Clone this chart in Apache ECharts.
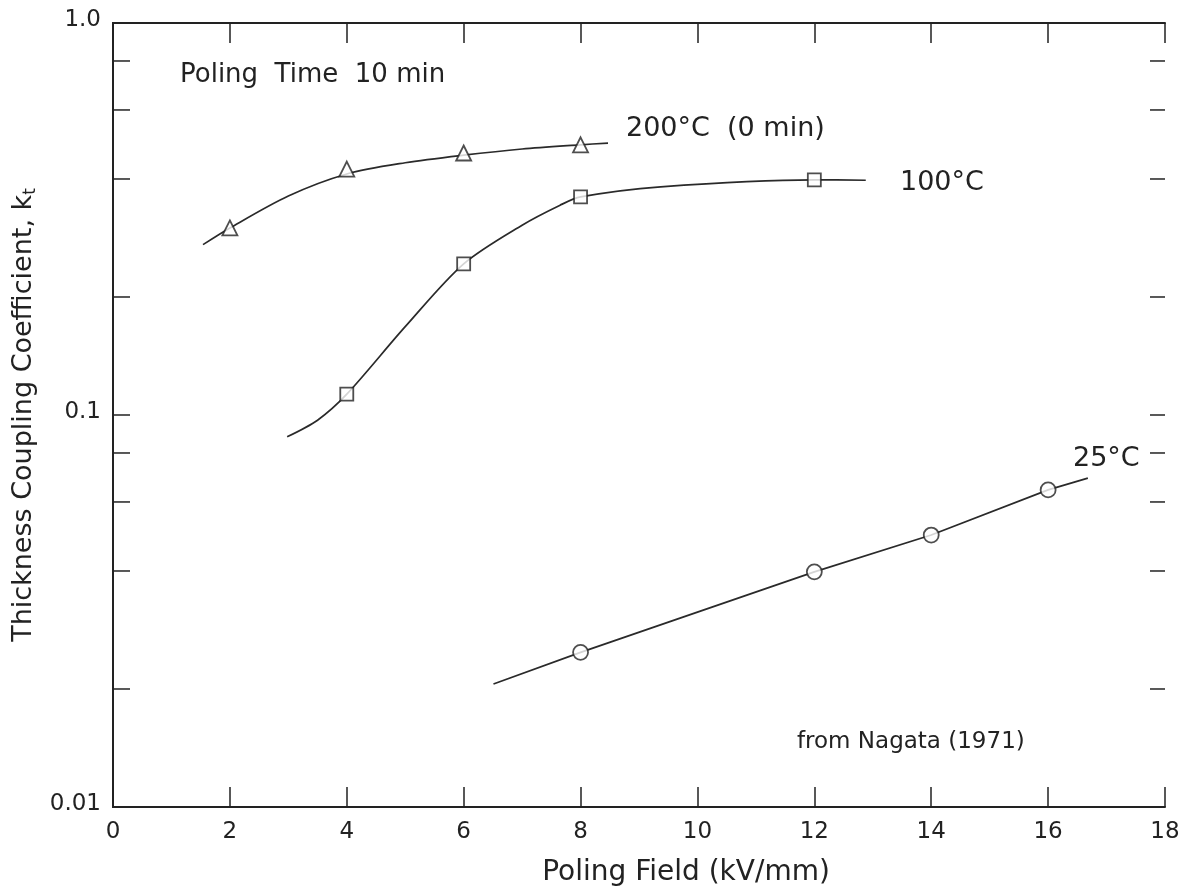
<!DOCTYPE html>
<html>
<head>
<meta charset="utf-8">
<script src="https://cdn.jsdelivr.net/npm/echarts@6/dist/echarts.min.js"></script>
<style>html,body{margin:0;padding:0;background:#fff}#c{width:1183px;height:896px}</style>
</head>
<body>
<div id="c"></div>
<script>
// ---- data ----
const xTicks = [0, 2, 4, 6, 8, 10, 12, 14, 16, 18];
const yTickLabels = {'1': '1.0', '0.1': '0.1', '0.01': '0.01'};
const yMajorTicks = [0.1];
const yMinorTicks = [0.02, 0.04, 0.06, 0.08, 0.2, 0.4, 0.6, 0.8];

// 200 °C (0 min) – triangles
const pts200 = [[2, 0.300], [4, 0.424], [6, 0.466], [8, 0.489]];
const curve200 = [[1.54, 0.272], [2, 0.300], [3, 0.362], [4, 0.412], [5, 0.440], [6, 0.460], [7, 0.477], [8, 0.489], [8.47, 0.494]];

// 100 °C – squares
const pts100 = [[4, 0.113], [6, 0.243], [8, 0.360], [12, 0.398]];
const curve100 = [[2.98, 0.088], [3.5, 0.097], [4, 0.113], [5, 0.168], [6, 0.243], [7, 0.305], [7.65, 0.343], [8, 0.360], [9.37, 0.382], [12, 0.398], [12.88, 0.397]];

// 25 °C – circles
const pts25 = [[8, 0.0248], [12, 0.0398], [14, 0.0494], [16, 0.0644]];
const curve25 = [[6.51, 0.0206], [8, 0.0248], [12, 0.0398], [14, 0.0494], [16, 0.0644], [16.68, 0.069]];

const FONT = 'DejaVu Sans';
const INK = '#222';
const chart = echarts.init(document.getElementById('c'), null, {renderer: 'canvas'});

const lineStyle = {color: '#2a2a2a', width: 1.7};
const markerStyle = {color: '#fff', borderColor: '#222', borderWidth: 1.8};

function tickSeries(values, lenL, lenR) {
  return {type: 'custom', xAxisIndex: 0, yAxisIndex: 0, clip: false, silent: true,
    data: values.map(v => [0, v]),
    renderItem: (params, api) => {
      const v = api.value(1);
      const l = api.coord([0, v]);
      const r = api.coord([18, v]);
      const st = {stroke: '#222', lineWidth: 1.5};
      return {type: 'group', children: [
        {type: 'line', shape: {x1: l[0], y1: l[1], x2: l[0] + lenL, y2: l[1]}, style: st},
        {type: 'line', shape: {x1: r[0] - lenR, y1: r[1], x2: r[0], y2: r[1]}, style: st}
      ]};
    }};
}

chart.setOption({
  animation: false,
  backgroundColor: '#fff',
  grid: {left: 113, right: 18, top: 23, bottom: 89, containLabel: false},
  xAxis: [{
    type: 'value', min: 0, max: 18, interval: 2, position: 'bottom',
    axisLine: {lineStyle: {color: '#222', width: 2}},
    axisTick: {inside: true, length: 20, lineStyle: {color: '#222', width: 1.5}},
    axisLabel: {fontFamily: FONT, fontSize: 23, color: INK, margin: 14,
      formatter: v => xTicks.includes(v) ? String(v) : ''},
    splitLine: {show: false}
  }, {
    type: 'value', min: 0, max: 18, interval: 2, position: 'top',
    axisLine: {lineStyle: {color: '#222', width: 2}},
    axisTick: {inside: true, length: 20, lineStyle: {color: '#222', width: 1.5}},
    axisLabel: {show: false}, splitLine: {show: false}
  }],
  yAxis: [{
    type: 'log', logBase: 10, min: 0.01, max: 1, position: 'left',
    name: 'Thickness Coupling Coefficient, k{sub|t}', nameLocation: 'middle', nameGap: 70, nameRotate: 90,
    nameTextStyle: {fontFamily: FONT, fontSize: 27, color: INK,
      rich: {sub: {fontFamily: FONT, fontSize: 17, color: INK, verticalAlign: 'bottom', padding: [12, 0, 0, 0]}}},
    axisLine: {lineStyle: {color: '#222', width: 2}},
    axisTick: {show: false},
    axisLabel: {fontFamily: FONT, fontSize: 23, color: INK, margin: 12,
      formatter: v => {
        const key = String(Math.round(v * 100) / 100);
        return yTickLabels[key] ? '{a|' + yTickLabels[key] + '}' : '';
      },
      rich: {a: {fontFamily: FONT, fontSize: 23, color: INK, padding: [0, 0, 6, 0]}}},
    splitLine: {show: false}
  }, {
    type: 'log', logBase: 10, min: 0.01, max: 1, position: 'right',
    axisLine: {lineStyle: {color: '#222', width: 2}},
    axisTick: {show: false},
    axisLabel: {show: false}, splitLine: {show: false}
  }],
  series: [
    tickSeries(yMajorTicks, 17, 15),
    tickSeries(yMinorTicks, 17, 15),
    {type: 'line', data: curve200, smooth: 0.3, showSymbol: false, lineStyle: lineStyle, silent: true},
    {type: 'line', data: curve100, smooth: 0.3, showSymbol: false, lineStyle: lineStyle, silent: true},
    {type: 'line', data: curve25, smooth: false, showSymbol: false, lineStyle: lineStyle, silent: true},
    {type: 'scatter', data: pts200, symbol: 'triangle', symbolSize: 15, itemStyle: markerStyle, z: 5},
    {type: 'scatter', data: pts100, symbol: 'rect', symbolSize: 13, itemStyle: markerStyle, z: 5},
    {type: 'scatter', data: pts25, symbol: 'circle', symbolSize: 15, itemStyle: markerStyle, z: 5}
  ],
  graphic: [
    {type: 'text', x: 180, y: 75, style: {text: 'Poling  Time  10 min', font: '26px "DejaVu Sans"', fill: INK, verticalAlign: 'middle'}},
    {type: 'text', x: 626, y: 129, style: {text: '200°C  (0 min)', font: '27px "DejaVu Sans"', fill: INK, verticalAlign: 'middle'}},
    {type: 'text', x: 900, y: 183, style: {text: '100°C', font: '27px "DejaVu Sans"', fill: INK, verticalAlign: 'middle'}},
    {type: 'text', x: 1073, y: 459, style: {text: '25°C', font: '27px "DejaVu Sans"', fill: INK, verticalAlign: 'middle'}},
    {type: 'text', x: 797, y: 742, style: {text: 'from Nagata (1971)', font: '23px "DejaVu Sans"', fill: INK, verticalAlign: 'middle'}},
    {type: 'text', x: 686, y: 873, style: {text: 'Poling Field (kV/mm)', font: '28px "DejaVu Sans"', fill: INK, align: 'center', verticalAlign: 'middle'}}
  ]
});
</script>
</body>
</html>
